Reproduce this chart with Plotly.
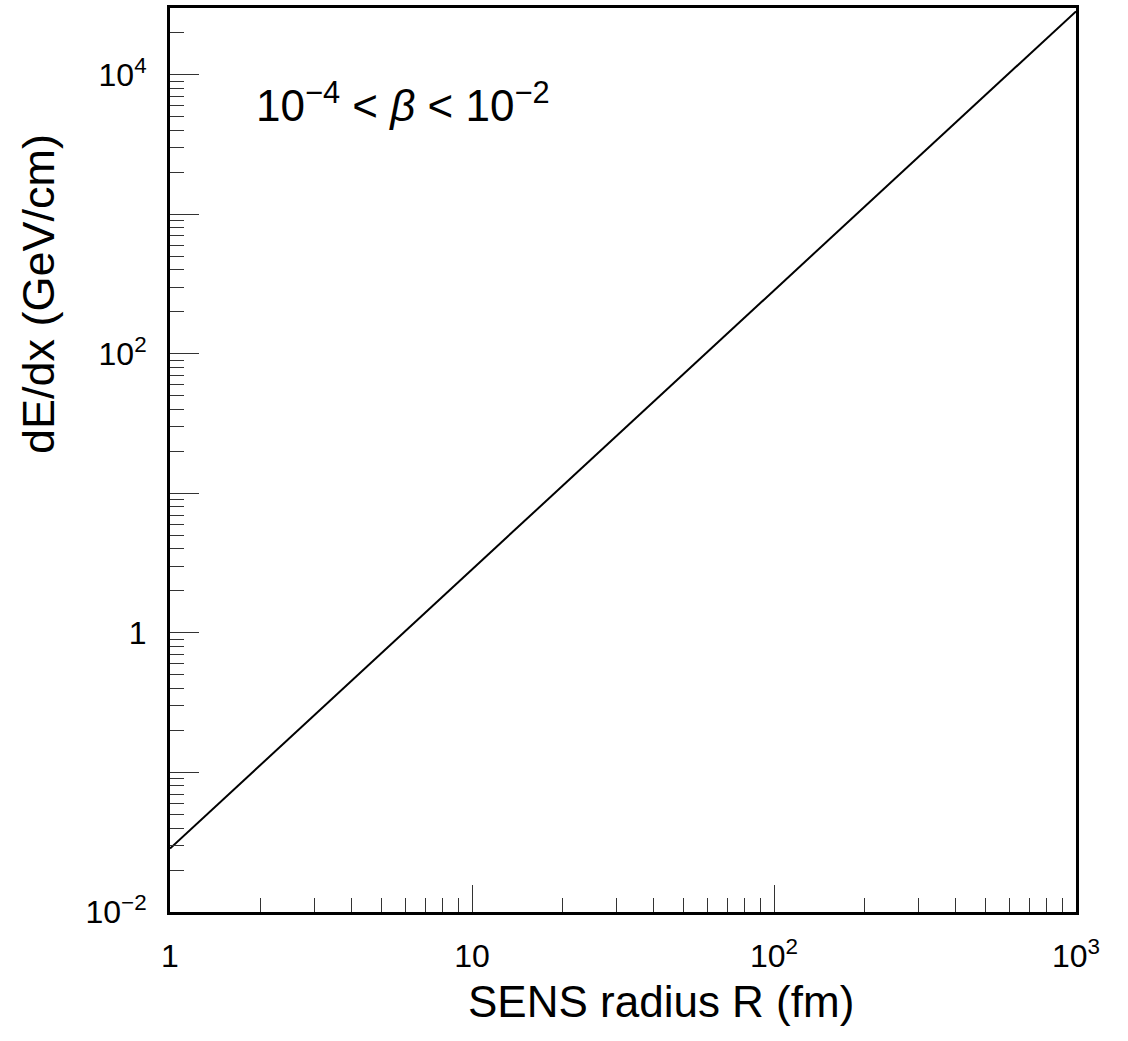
import numpy as np
import plotly.graph_objects as go

# Data (log-log straight line)
radius_fm = [1, 10, 100, 1000]
dedx_gev_cm = [0.0285, 2.85, 285, 28500]

x_tickvals = [1, 10, 100, 1000]
x_ticktext = ["1", "10", "10<sup>2</sup>", "10<sup>3</sup>"]
y_tickvals = [0.01, 1, 100, 10000]
y_ticktext = ["10<sup>\u22122</sup>", "1", "10<sup>2</sup>", "10<sup>4</sup>"]
y_odd_decades = [0.1, 10, 1000]

x_minor = [k * 10 ** e for e in range(0, 3) for k in range(2, 10)]
y_minor = [k * 10 ** e for e in range(-2, 5) for k in range(2, 10) if k * 10 ** e < 30000]

FONT = "Liberation Sans"
YRANGE = [-2, 4.479]

fig = go.Figure()
fig.add_trace(go.Scatter(x=radius_fm, y=dedx_gev_cm, mode="lines",
                         line=dict(color="black", width=2), showlegend=False))
# invisible trace to carry the secondary (odd-decade tick) axis
fig.add_trace(go.Scatter(x=[radius_fm[0]], y=[dedx_gev_cm[0]], yaxis="y2", mode="markers",
                         marker=dict(opacity=0), showlegend=False, hoverinfo="skip"))

W, H = 1128, 1041
L, R, T, B = 170, 52, 5, 129
pw, ph = W - L - R, H - T - B

def px2paper(px, py):
    return (px - L) / pw, (H - B - py) / ph

common_axis = dict(showgrid=False, zeroline=False, showline=True, linecolor="black",
                   linewidth=3, mirror=True, ticks="inside", tickcolor="#333",
                   tickwidth=1, tickfont=dict(family=FONT, size=32, color="black"))

fig.update_xaxes(type="log", range=[0, 3], tickvals=x_tickvals, ticktext=x_ticktext,
                 ticklen=27, ticklabelstandoff=14,
                 minor=dict(tickvals=x_minor, ticks="inside", ticklen=14, tickcolor="#333", tickwidth=1),
                 **common_axis)
fig.update_yaxes(type="log", range=YRANGE, tickvals=y_tickvals, ticktext=y_ticktext,
                 ticklen=29, ticklabelstandoff=14,
                 minor=dict(tickvals=y_minor, ticks="inside", ticklen=14, tickcolor="#333", tickwidth=1),
                 **common_axis)
fig.update_layout(yaxis2=dict(type="log", range=YRANGE, overlaying="y", side="left",
                              tickvals=y_odd_decades, showticklabels=False, ticks="inside",
                              ticklen=29, tickcolor="#333", tickwidth=1, showgrid=False,
                              zeroline=False, showline=False))

ax, ay = px2paper(38, 292)
bx, by = px2paper(661, 1002)
cx, cy = px2paper(403, 100)
fig.add_annotation(text="dE/dx (GeV/cm)", xref="paper", yref="paper", x=ax, y=ay,
                   textangle=-90, showarrow=False, xanchor="center", yanchor="middle",
                   font=dict(family=FONT, size=45, color="black"))
fig.add_annotation(text="SENS radius R (fm)", xref="paper", yref="paper", x=bx, y=by,
                   showarrow=False, xanchor="center", yanchor="middle",
                   font=dict(family=FONT, size=44, color="black"))
fig.add_annotation(text="10<sup>\u22124</sup> &lt; <i>\u03b2</i> &lt; 10<sup>\u22122</sup>",
                   xref="paper", yref="paper", x=cx, y=cy,
                   showarrow=False, xanchor="center", yanchor="middle",
                   font=dict(family=FONT, size=44, color="black"))

fig.update_layout(width=W, height=H, margin=dict(l=L, r=R, t=T, b=B),
                  paper_bgcolor="white", plot_bgcolor="white")

fig.write_html("out.html")
